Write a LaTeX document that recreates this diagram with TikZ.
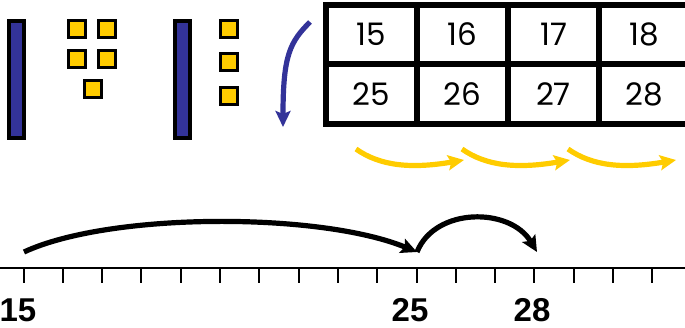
\documentclass[tikz,border=0pt]{standalone}
\usepackage{fontspec}
\setmainfont{Liberation Sans}
\newfontfamily\gothic{Poppins}
\usetikzlibrary{arrows.meta}
\definecolor{tenblue}{HTML}{333399}
\definecolor{unityellow}{HTML}{FFCC00}
\tikzset{
  ten/.style={draw=black, line width=3.6pt, fill=tenblue, minimum width=15.4pt, minimum height=117.4pt, inner sep=0pt},
  one/.style={draw=black, line width=3pt, fill=unityellow, minimum size=17pt, inner sep=0pt},
  cell/.style={draw=black, line width=6pt, minimum width=91pt, minimum height=59.5pt, inner sep=0pt, font=\gothic\fontsize{31}{31}\selectfont},
  numlab/.style={font=\bfseries\fontsize{33}{33}\selectfont, inner sep=0pt},
  jump/.style={-{Stealth[length=16pt,width=15pt,inset=3pt]}, line width=5.2pt},
}
\begin{document}
\begin{tikzpicture}[x=1pt,y=-1pt]
\useasboundingbox (0,0) rectangle (685,328);
\node[ten] (tenA) at (16.5,79.5) {};
\node[one] (oneA) at (77,29) {};
\node[one] (oneB) at (107,29) {};
\node[one] (oneC) at (77,59) {};
\node[one] (oneD) at (107,59) {};
\node[one] (oneE) at (93,89) {};
\node[ten] (tenB) at (182.5,79.5) {};
\node[one] (oneF) at (229,29) {};
\node[one] (oneG) at (229,62) {};
\node[one] (oneH) at (229,96) {};
\foreach \n [count=\i] in {15,16,17,18}
  \node[cell] (c\n) at (280.5+91*\i,34.5) {\n};
\foreach \n [count=\i] in {25,26,27,28}
  \node[cell] (c\n) at (280.5+91*\i,94) {\n};
\coordinate (bstart) at (310,22);
\coordinate (bend) at (283,127);
\draw[jump, tenblue] (bstart) .. controls (290,42) and (283,55) .. (bend);
\foreach \i in {0,1,2} {
  \coordinate (ys\i) at (356+106*\i,149);
  \coordinate (ye\i) at (464+106*\i,160);
  \draw[jump, unityellow] (ys\i) .. controls +(24,17) and +(-53,9) .. (ye\i);
}
\draw[line width=2.7pt] (0,268) -- (685,268);
\foreach \i in {0,...,16}
  \draw[line width=2pt] (23.5+39.3*\i,268) -- (23.5+39.3*\i,283);
\node[numlab] (l15) at (18,310) {15};
\node[numlab] (l25) at (410,310) {25};
\node[numlab] (l28) at (532,310) {28};
\coordinate (j15) at (24,252);
\coordinate (j25) at (417,252);
\coordinate (j28) at (537,252);
\draw[jump] (j15) .. controls (110,212) and (320,212) .. (j25);
\draw[jump] (j25) .. controls (435,207) and (510,207) .. (j28);
\end{tikzpicture}
\end{document}
